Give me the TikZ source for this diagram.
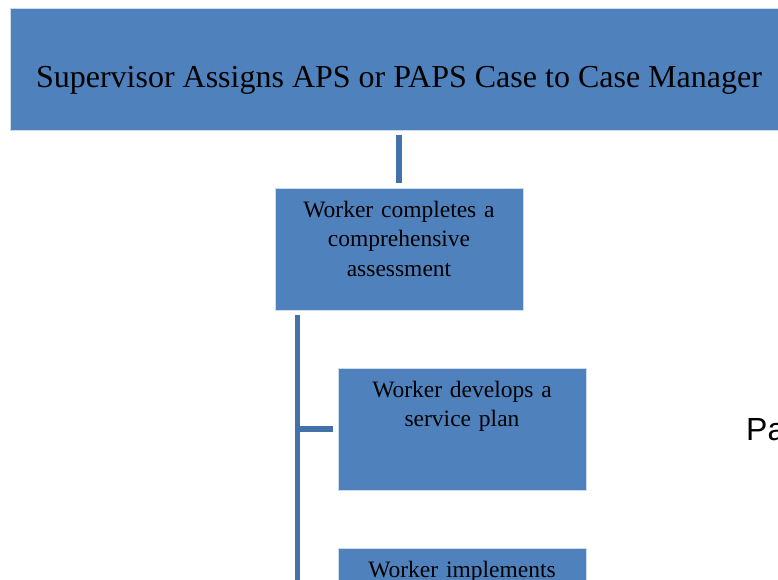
\documentclass[tikz,border=0pt]{standalone}
\usepackage{fontspec}
\setmainfont{Liberation Serif}
\newfontfamily\arialfont{Liberation Sans}
\definecolor{boxblue}{RGB}{79,129,189}
\definecolor{lineblue}{RGB}{66,114,168}
\definecolor{edgeblue}{RGB}{205,218,236}

\begin{document}
\begin{tikzpicture}[
x=1pt,
y=-1pt,
rect/.style={
fill=boxblue,
draw=edgeblue,
line width=0.6pt,
inner sep=0pt,
},
small/.style={
rect,
minimum width=248pt,
minimum height=122pt,
text width=230pt,
align=center,
text height=29pt,
text depth=93pt,
font=\fontsize{23.5}{29.5}\selectfont,
},
myedge/.style={
draw=lineblue,
line width=5.5pt,
},
]
\clip (0,0) rectangle (778,580);

\node[rect, minimum width=778pt, minimum height=122pt, text height=37pt, text depth=0pt,
  font=\fontsize{32}{38}\selectfont] at (399,69) (1) {Supervisor Assigns APS or PAPS Case to Case Manager};
\node[small] at (399,249) (2) {Worker completes a\\comprehensive\\assessment};
\node[small] at (462,429) (3) {Worker develops a\\service plan};
\node[small] at (462,609) (4) {Worker implements};

\node[font=\arialfont\fontsize{32}{38}\selectfont, anchor=base west, inner sep=0pt] at (746,440) (5) {Pa};

\coordinate (spine) at ([xshift=23pt,yshift=-5pt]2.south west);

\path[myedge, shorten <=5pt, shorten >=5pt] (1.south) -- (2.north);
\path[myedge] (spine) -- (spine |- 4.south);
\path[myedge, shorten >=5pt] (spine |- 3.west) -- (3.west);

\end{tikzpicture}
\end{document}
